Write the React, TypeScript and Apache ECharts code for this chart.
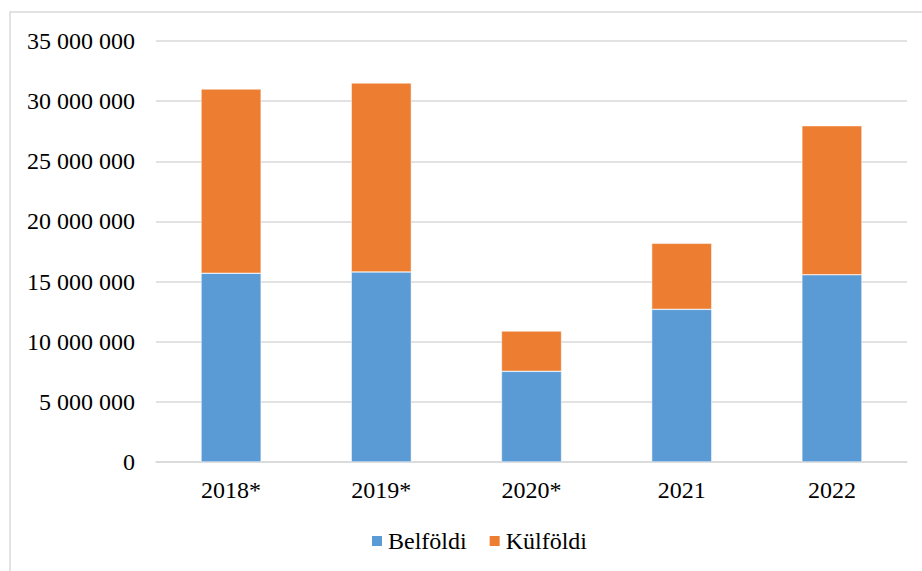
import React, { useEffect, useRef } from "react";
import * as echarts from "echarts";

const categories = ["2018*", "2019*", "2020*", "2021", "2022"];
const belfoldi = [15690000, 15800000, 7540000, 12690000, 15570000];
const kulfoldi = [15320000, 15710000, 3350000, 5490000, 12390000];
const seriesNames = ["Belföldi", "Külföldi"];

const FONT = "'Liberation Serif', 'Times New Roman', serif";

function fmt(v: number): string {
  return String(Math.round(v)).replace(/\B(?=(\d{3})+(?!\d))/g, " ");
}

export default function App() {
  const ref = useRef<HTMLDivElement>(null);
  useEffect(() => {
    if (!ref.current) return;
    const chart = echarts.init(ref.current, null, { renderer: "svg" });
    chart.setOption({
      animation: false,
      backgroundColor: "#ffffff",
      graphic: [
        {
          type: "rect",
          shape: { x: 10, y: 12, width: 930, height: 580 },
          style: { fill: "none", stroke: "#d9d9d9", lineWidth: 1.5 },
          silent: true,
        },
      ],
      grid: { left: 156, right: 15, top: 41, bottom: 109, containLabel: false },
      legend: {
        data: seriesNames,
        left: 365,
        top: 524,
        itemWidth: 12,
        itemHeight: 12,
        itemGap: 21,
        icon: "rect",
        textStyle: { fontFamily: FONT, fontSize: 24, color: "#000" },
      },
      xAxis: {
        type: "category",
        data: categories,
        axisLine: { show: true, lineStyle: { color: "#d9d9d9", width: 1.5 } },
        axisTick: { show: false },
        axisLabel: { fontFamily: FONT, fontSize: 24, color: "#000", margin: 16 },
      },
      yAxis: {
        type: "value",
        min: 0,
        max: 35000000,
        interval: 5000000,
        axisLine: { show: false },
        axisTick: { show: false },
        splitLine: { lineStyle: { color: "#d9d9d9", width: 1.5 } },
        axisLabel: {
          fontFamily: FONT,
          fontSize: 24,
          color: "#000",
          margin: 21,
          formatter: (v: number) => fmt(v),
        },
      },
      series: [
        {
          name: seriesNames[0],
          type: "bar",
          stack: "total",
          data: belfoldi,
          barWidth: "40%",
          itemStyle: { color: "#5B9BD5", borderColor: "#ffffff", borderWidth: 0.5 },
        },
        {
          name: seriesNames[1],
          type: "bar",
          stack: "total",
          data: kulfoldi,
          barWidth: "40%",
          itemStyle: { color: "#ED7D31", borderColor: "#ffffff", borderWidth: 0.5 },
        },
      ],
    });
    return () => chart.dispose();
  }, []);
  return (
    <div
      ref={ref}
      style={{ position: "absolute", left: 0, top: 0, width: 922, height: 571 }}
    />
  );
}
